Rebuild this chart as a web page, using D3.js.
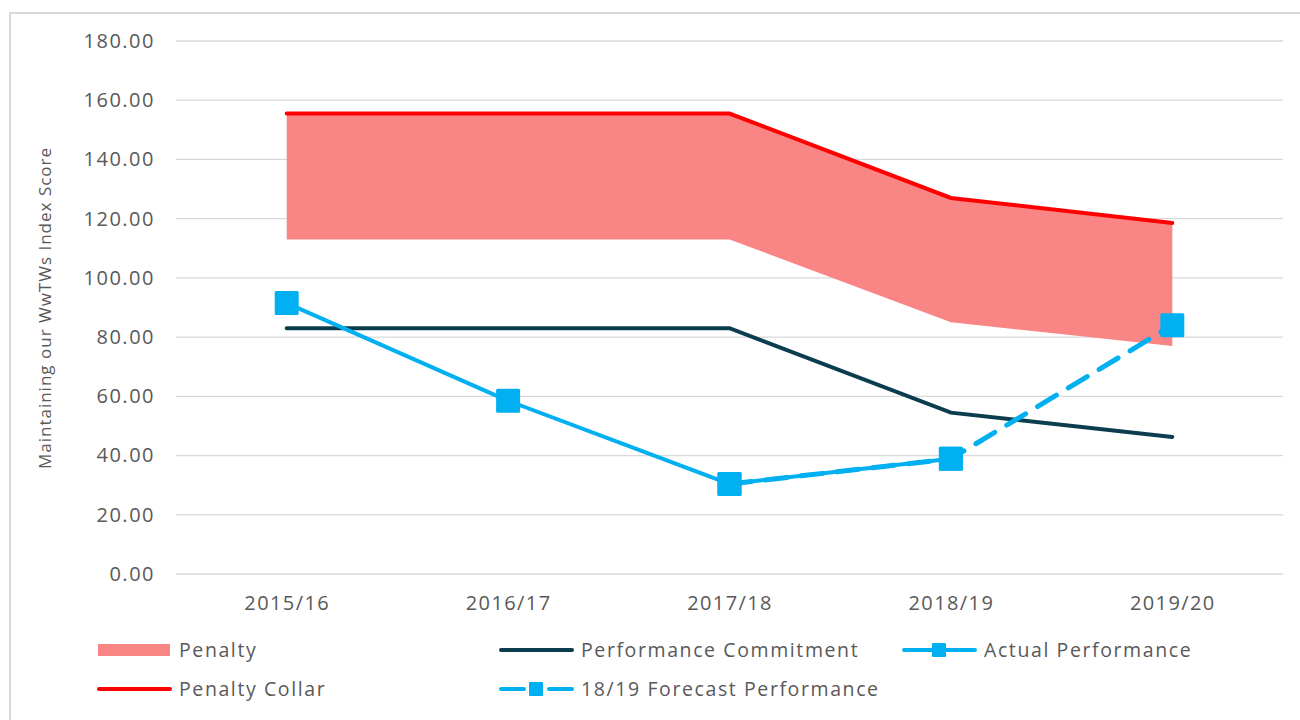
<!DOCTYPE html>
<html>
<head>
<meta charset="utf-8">
<script src="https://cdn.jsdelivr.net/npm/d3@7"></script>
<style>
  body { margin: 0; background: #ffffff; }
  svg { display: block; }
</style>
</head>
<body>
<script>
const years = ["2015/16", "2016/17", "2017/18", "2018/19", "2019/20"];
const penaltyCollar = [155.5, 155.5, 155.5, 127, 118.5];
const penaltyFloor = [113, 113, 113, 85, 77];
const commitment = [83, 83, 83, 54.5, 46.3];
const actual = [91.5, 58.5, 30.4, 38.9, null];
const forecast = [null, null, 30.4, 38.9, 84];
const yTicks = [0, 20, 40, 60, 80, 100, 120, 140, 160, 180];

const width = 1300;
const height = 720;
const font = "'Open Sans', 'DejaVu Sans', sans-serif";
const textColor = "#595959";

const svg = d3.select("body")
  .append("svg")
  .attr("width", width)
  .attr("height", height);

svg.append("rect")
  .attr("x", 10)
  .attr("y", 13)
  .attr("width", 1300)
  .attr("height", 720)
  .attr("fill", "#ffffff")
  .attr("stroke", "#d9d9d9")
  .attr("stroke-width", 2);

const x = d3.scalePoint()
  .domain(years)
  .range([176, 1283])
  .padding(0.5);

const y = d3.scaleLinear()
  .domain([0, 180])
  .range([574, 41]);

// gridlines
svg.append("g")
  .selectAll("line")
  .data(yTicks)
  .join("line")
  .attr("x1", 176)
  .attr("x2", 1283)
  .attr("y1", d => y(d))
  .attr("y2", d => y(d))
  .attr("stroke", "#d9d9d9")
  .attr("stroke-width", 1.3);

// y axis labels
const yAxis = svg.append("g")
  .attr("transform", "translate(176,0)")
  .call(d3.axisLeft(y).tickValues(yTicks).tickSize(0).tickPadding(21).tickFormat(d3.format(".2f")));
yAxis.select(".domain").remove();
yAxis.selectAll("text")
  .attr("font-family", font)
  .attr("font-size", 20)
  .attr("letter-spacing", 1.5)
  .attr("fill", textColor);

// x axis labels
const xAxis = svg.append("g")
  .attr("transform", "translate(0,574)")
  .call(d3.axisBottom(x).tickSize(0).tickPadding(22));
xAxis.select(".domain").remove();
xAxis.selectAll("text")
  .attr("font-family", font)
  .attr("font-size", 20)
  .attr("letter-spacing", 1.4)
  .attr("fill", textColor);

svg.append("text")
  .attr("transform", "translate(51,308) rotate(-90)")
  .attr("text-anchor", "middle")
  .attr("font-family", font)
  .attr("font-size", 17)
  .attr("letter-spacing", 1)
  .attr("fill", textColor)
  .text("Maintaining our WwTWs Index Score");

// penalty band
const band = years.map((d, i) => ({ year: d, lo: penaltyFloor[i], hi: penaltyCollar[i] }));
svg.append("path")
  .datum(band)
  .attr("fill", "#f98585")
  .attr("d", d3.area()
    .x(d => x(d.year))
    .y0(d => y(d.lo))
    .y1(d => y(d.hi)));

const lineGen = d3.line()
  .defined(d => d.v != null)
  .x(d => x(d.year))
  .y(d => y(d.v));

function series(values) {
  return years.map((d, i) => ({ year: d, v: values[i] }));
}

svg.append("path")
  .datum(series(penaltyCollar))
  .attr("fill", "none")
  .attr("stroke", "#ff0000")
  .attr("stroke-width", 4)
  .attr("stroke-linecap", "round")
  .attr("d", lineGen);

svg.append("path")
  .datum(series(commitment))
  .attr("fill", "none")
  .attr("stroke", "#0b3d4f")
  .attr("stroke-width", 4)
  .attr("stroke-linecap", "round")
  .attr("d", lineGen);

const blue = "#00b0f0";

svg.append("path")
  .datum(series(actual))
  .attr("fill", "none")
  .attr("stroke", blue)
  .attr("stroke-width", 4)
  .attr("stroke-linecap", "round")
  .attr("d", lineGen);

svg.append("path")
  .datum(series(forecast))
  .attr("fill", "none")
  .attr("stroke", blue)
  .attr("stroke-width", 5)
  .attr("stroke-dasharray", "22 14")
  .attr("stroke-linecap", "round")
  .attr("d", lineGen);

const markerSize = 24;
const markerPts = series(actual).concat(series(forecast)).filter(d => d.v != null);
svg.append("g")
  .selectAll("rect")
  .data(markerPts)
  .join("rect")
  .attr("x", d => x(d.year) - markerSize / 2)
  .attr("y", d => y(d.v) - markerSize / 2)
  .attr("width", markerSize)
  .attr("height", markerSize)
  .attr("rx", 1.5)
  .attr("fill", blue);

// legend
const legendItems = [
  { label: "Penalty", kind: "area", color: "#f98585", x: 98, y: 650 },
  { label: "Performance Commitment", kind: "line", color: "#0b3d4f", x: 500, y: 650 },
  { label: "Actual Performance", kind: "marker", color: blue, x: 903, y: 650 },
  { label: "Penalty Collar", kind: "line", color: "#ff0000", x: 98, y: 689 },
  { label: "18/19 Forecast Performance", kind: "dashmarker", color: blue, x: 500, y: 689 }
];

const legend = svg.append("g")
  .selectAll("g")
  .data(legendItems)
  .join("g")
  .attr("transform", d => `translate(${d.x},${d.y})`);

legend.each(function (d) {
  const g = d3.select(this);
  if (d.kind === "area") {
    g.append("rect").attr("x", 0).attr("y", -6).attr("width", 72).attr("height", 12).attr("fill", d.color);
  } else if (d.kind === "dashmarker") {
    g.append("line").attr("x1", 1).attr("x2", 24).attr("stroke", d.color).attr("stroke-width", 4).attr("stroke-linecap", "round");
    g.append("line").attr("x1", 49).attr("x2", 72).attr("stroke", d.color).attr("stroke-width", 4).attr("stroke-linecap", "round");
    g.append("rect").attr("x", 29).attr("y", -7).attr("width", 14).attr("height", 14).attr("rx", 1).attr("fill", d.color);
  } else {
    g.append("line").attr("x1", 1).attr("x2", 72).attr("stroke", d.color).attr("stroke-width", 4).attr("stroke-linecap", "round");
    if (d.kind === "marker") {
      g.append("rect").attr("x", 29).attr("y", -7).attr("width", 14).attr("height", 14).attr("rx", 1).attr("fill", d.color);
    }
  }
  g.append("text")
    .attr("x", 81)
    .attr("dy", "0.35em")
    .attr("font-family", font)
    .attr("font-size", 19.5)
    .attr("letter-spacing", 1.6)
    .attr("fill", textColor)
    .text(d.label);
});
</script>
</body>
</html>
